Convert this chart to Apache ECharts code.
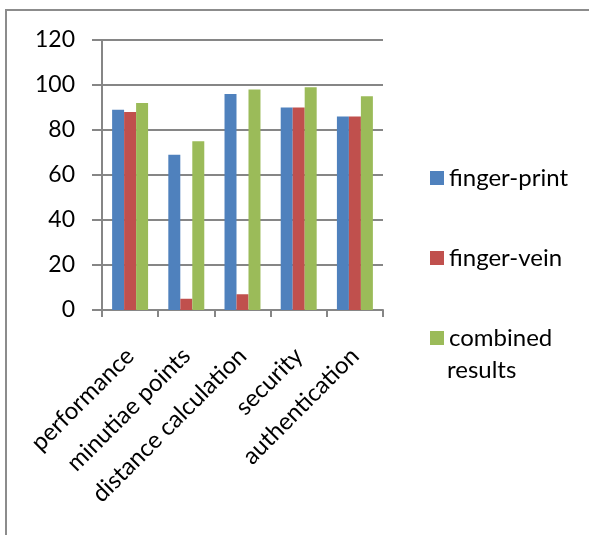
<!DOCTYPE html>
<html>
<head>
<meta charset="utf-8">
<script src="https://cdn.jsdelivr.net/npm/echarts@6/dist/echarts.min.js"></script>
<style>
  html, body { margin: 0; padding: 0; background: #fff; }
  #chart { width: 589px; height: 535px; }
</style>
</head>
<body>
<div id="chart"></div>
<script>
// Categories and series values
var categories = ['performance', 'minutiae points', 'distance calculation', 'security', 'authentication'];
var fingerPrint = [89, 69, 96, 90, 86];
var fingerVein = [88, 5, 7, 90, 86];
var combined = [92, 75, 98, 99, 95];
var yTicks = { min: 0, max: 120, interval: 20 };

var FONT = 'Lato, "Open Sans", sans-serif';
var FS = 24;
var GRAY = '#868686';

var chart = echarts.init(document.getElementById('chart'), null, { renderer: 'canvas' });

function barSeries(name, data, color) {
  return {
    name: name,
    type: 'bar',
    data: data,
    barGap: '0%',
    barCategoryGap: '36%',
    itemStyle: { color: color },
    emphasis: { disabled: true },
    animation: false
  };
}

chart.setOption({
  backgroundColor: '#ffffff',
  animation: false,
  grid: { left: 102, right: 206, top: 40, bottom: 225, containLabel: false },
  legend: {
    orient: 'vertical',
    left: 425,
    top: 159,
    itemWidth: 14,
    itemHeight: 14,
    itemGap: 52,
    icon: 'rect',
    selectedMode: false,
    textStyle: { fontFamily: FONT, fontSize: FS, lineHeight: 28, color: '#000' },
    formatter: function (n) { return n === 'combined results' ? 'combined' : n; },
    data: ['finger-print', 'finger-vein', 'combined results']
  },
  xAxis: {
    type: 'category',
    data: categories,
    axisLine: { lineStyle: { color: GRAY, width: 2 } },
    axisTick: { show: true, alignWithLabel: false, length: 7, lineStyle: { color: GRAY, width: 2 } },
    axisLabel: {
      rotate: 45,
      interval: 0,
      margin: 42,
      fontFamily: FONT,
      fontSize: FS,
      color: '#000'
    }
  },
  yAxis: {
    type: 'value',
    min: yTicks.min,
    max: yTicks.max,
    interval: yTicks.interval,
    axisLine: { show: true, lineStyle: { color: GRAY, width: 2 } },
    axisTick: { show: true, length: 10, lineStyle: { color: GRAY, width: 2 } },
    splitLine: { show: true, lineStyle: { color: GRAY, width: 2 } },
    axisLabel: { fontFamily: FONT, fontSize: 23, color: '#000', margin: 27 }
  },
  series: [
    barSeries('finger-print', fingerPrint, '#4F81BD'),
    barSeries('finger-vein', fingerVein, '#C0504D'),
    barSeries('combined results', combined, '#9BBB59')
  ],
  graphic: [
    {
      type: 'polyline',
      shape: { points: [[6, 535], [6, 10], [589, 10]] },
      style: { stroke: '#8c8c8c', lineWidth: 2, fill: null },
      silent: true
    },
    {
      type: 'text',
      left: 447,
      top: 358,
      style: { text: 'results', fontFamily: FONT, fontSize: FS, fill: '#000' },
      silent: true
    }
  ]
});
</script>
</body>
</html>
